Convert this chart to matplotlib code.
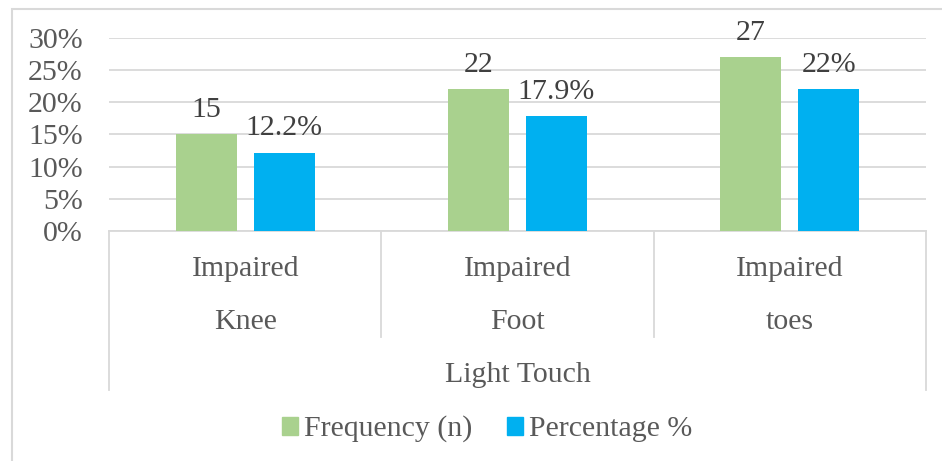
import matplotlib.pyplot as plt
from matplotlib.patches import Patch, Rectangle

# data
top_labels = ["Impaired", "Impaired", "Impaired"]
sub_labels = ["Knee", "Foot", "toes"]
group_label = "Light Touch"
frequency = [15, 22, 27]
percentage = [12.2, 17.9, 22]
freq_text = ["15", "22", "27"]
pct_text = ["12.2%", "17.9%", "22%"]
y_ticks = [0, 5, 10, 15, 20, 25, 30]

green = "#A9D18E"
blue = "#00B0F0"
axis_col = "#595959"
label_col = "#404040"
grid_col = "#D9D9D9"

plt.rcParams["font.family"] = ["Liberation Serif", "DejaVu Serif"]
fs = 21.5

W, H = 942, 461
fig = plt.figure(figsize=(W / 100, H / 100), dpi=100)

# outer chart border (left and top only visible)
fig.patches.append(Rectangle((12 / W, -0.1), 1.2, 1.1 - 9 / H, transform=fig.transFigure,
                             fill=False, edgecolor=grid_col, linewidth=1.5))

ax = fig.add_axes([109 / W, 1 - 231 / H, (926 - 109) / W, (231 - 38) / H])

x = [0.5, 1.5, 2.5]
off = 0.143
w = 0.224
ax.bar([v - off for v in x], frequency, width=w, color=green, zorder=3)
ax.bar([v + off for v in x], percentage, width=w, color=blue, zorder=3)

for i in range(3):
    ax.annotate(freq_text[i], (x[i] - off, frequency[i]), xytext=(0, 12.3), textcoords="offset points",
                ha="center", va="baseline", fontsize=fs, color=label_col)
    ax.annotate(pct_text[i], (x[i] + off, percentage[i]), xytext=(0, 12.3), textcoords="offset points",
                ha="center", va="baseline", fontsize=fs, color=label_col)

ax.set_xlim(0, 3)
ax.set_ylim(0, 30)
ax.set_yticks(y_ticks)
ax.set_yticklabels([f"{t}%" for t in y_ticks])
ax.tick_params(axis="y", length=0, pad=19, labelsize=fs, labelcolor=axis_col)
ax.set_xticks([])
ax.yaxis.grid(True, color=grid_col, linewidth=1.3, zorder=0)
for s in ["top", "right", "left"]:
    ax.spines[s].set_visible(False)
ax.spines["bottom"].set_color(grid_col)
ax.spines["bottom"].set_linewidth(1.3)

# category axis separators and labels
trans = ax.get_xaxis_transform()
ah = 231 - 38
def yfrac(py):
    return (231 - py) / ah

for xv in [0, 3]:
    ax.plot([xv, xv], [0, yfrac(390)], transform=trans, color=grid_col, lw=1.3, clip_on=False)
for xv in [1, 2]:
    ax.plot([xv, xv], [0, yfrac(337)], transform=trans, color=grid_col, lw=1.3, clip_on=False)

for i in range(3):
    ax.text(x[i], yfrac(269), top_labels[i], transform=trans, ha="center", va="center",
            fontsize=fs, color=axis_col)
    ax.text(x[i], yfrac(322), sub_labels[i], transform=trans, ha="center", va="center",
            fontsize=fs, color=axis_col)
ax.text(1.5, yfrac(375), group_label, transform=trans, ha="center", va="center",
        fontsize=fs, color=axis_col)

handles = [Patch(color=green, label="Frequency (n)"), Patch(color=blue, label="Percentage %")]
fig.legend(handles=handles, loc="center", bbox_to_anchor=(487 / W, 1 - 429 / H), ncol=2,
           frameon=False, fontsize=fs, labelcolor=axis_col, handlelength=0.55, handleheight=0.55,
           handletextpad=0.2, columnspacing=1.15)

fig.savefig("out.png", dpi=100)
